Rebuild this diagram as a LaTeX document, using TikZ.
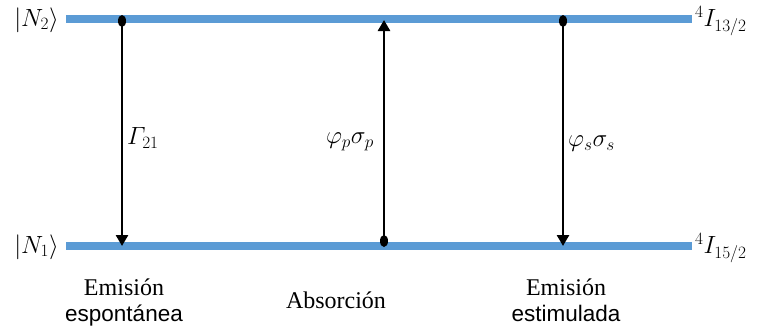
\documentclass[tikz,border=0pt]{standalone}
\usepackage{fontspec}
\setmainfont{Liberation Serif}
\newfontfamily\sansf{Liberation Sans}
\usetikzlibrary{arrows.meta,shapes.geometric}
\definecolor{lvl}{HTML}{5B9BD5}
\tikzset{
  level/.style={draw=lvl,line width=7.5pt},
  dotm/.style={ellipse,fill=black,minimum width=8pt,minimum height=12pt,inner sep=0pt},
  trans/.style={line width=2.6pt,-{Triangle[length=11pt,width=12pt]}},
  lab/.style={font=\fontsize{24}{28}\selectfont,inner sep=0pt},
  captxt/.style={font=\fontsize{24}{26}\selectfont,align=center,inner sep=0pt}
}
\newcommand{\sanscap}[1]{{\sansf\fontsize{22.5}{26}\selectfont #1}}
\begin{document}
\begin{tikzpicture}[x=1pt,y=-1pt]
\useasboundingbox (0,0) rectangle (761,332);
% levels
\coordinate (t1) at (66,19); \coordinate (t2) at (692,19);
\coordinate (b1) at (66,246); \coordinate (b2) at (692,246);
\draw[level] (t1) -- (t2);
\draw[level] (b1) -- (b2);
% labels of levels
\node[lab,anchor=east] (n2) at (59,20) {$|N_2\rangle$};
\node[lab,anchor=east] (n1) at (59,247) {$|N_1\rangle$};
\node[lab,anchor=west,font=\fontsize{26}{30}\selectfont] (i13) at (695,21) {$^4I_{13/2}$};
\node[lab,anchor=west,font=\fontsize{26}{30}\selectfont] (i15) at (695,248) {$^4I_{15/2}$};
% transitions
\node[dotm] (d1) at (122,21) {};
\coordinate (e1) at (122,246);
\draw[trans] (d1.center) -- (e1);
\node[dotm] (d2) at (384,241) {};
\coordinate (e2) at (384,20);
\draw[trans] (d2.center) -- (e2);
\node[dotm] (d3) at (563,21) {};
\coordinate (e3) at (563,246);
\draw[trans] (d3.center) -- (e3);
% rates
\node[lab,anchor=west] (g) at (127,138) {$\mathnormal{\Gamma}_{21}$};
\node[lab,anchor=east] (pp) at (374,142) {$\varphi_p\sigma_p$};
\node[lab,anchor=west] (ss) at (568,144) {$\varphi_s\sigma_s$};
% captions
\node[captxt] (c1) at (124,302) {Emisión\\\sanscap{espontánea}};
\node[captxt] (c2) at (336,300) {Absorción};
\node[captxt] (c3) at (566,300) {Emisión\\\sanscap{estimulada}};
\end{tikzpicture}
\end{document}
